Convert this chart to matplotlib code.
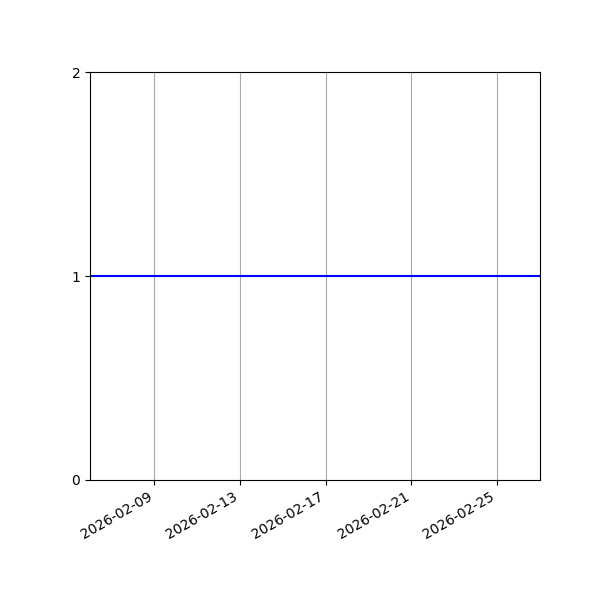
import numpy as np
import pandas as pd
import matplotlib
matplotlib.use('Agg')
import matplotlib.pyplot as plt
import matplotlib.dates as mdates

dates = pd.date_range('2026-02-06', '2026-02-27', freq='D')
values = [1] * len(dates)

fig, ax = plt.subplots(figsize=(6, 6), dpi=100)
ax.plot(dates, values, color='blue', linewidth=1.5)
ax.set_xlim(dates[0], dates[-1])
ax.set_ylim(0, 2)
ax.set_yticks([0, 1, 2])
ax.xaxis.set_major_locator(mdates.DayLocator(bymonthday=[1, 5, 9, 13, 17, 21, 25]))
ax.xaxis.set_major_formatter(mdates.DateFormatter('%Y-%m-%d'))
ax.grid(axis='x', color='#aaaaaa', linewidth=0.8)
fig.autofmt_xdate()
fig.subplots_adjust(left=0.15, right=0.9, top=0.88, bottom=0.2)
fig.savefig('out.png')
